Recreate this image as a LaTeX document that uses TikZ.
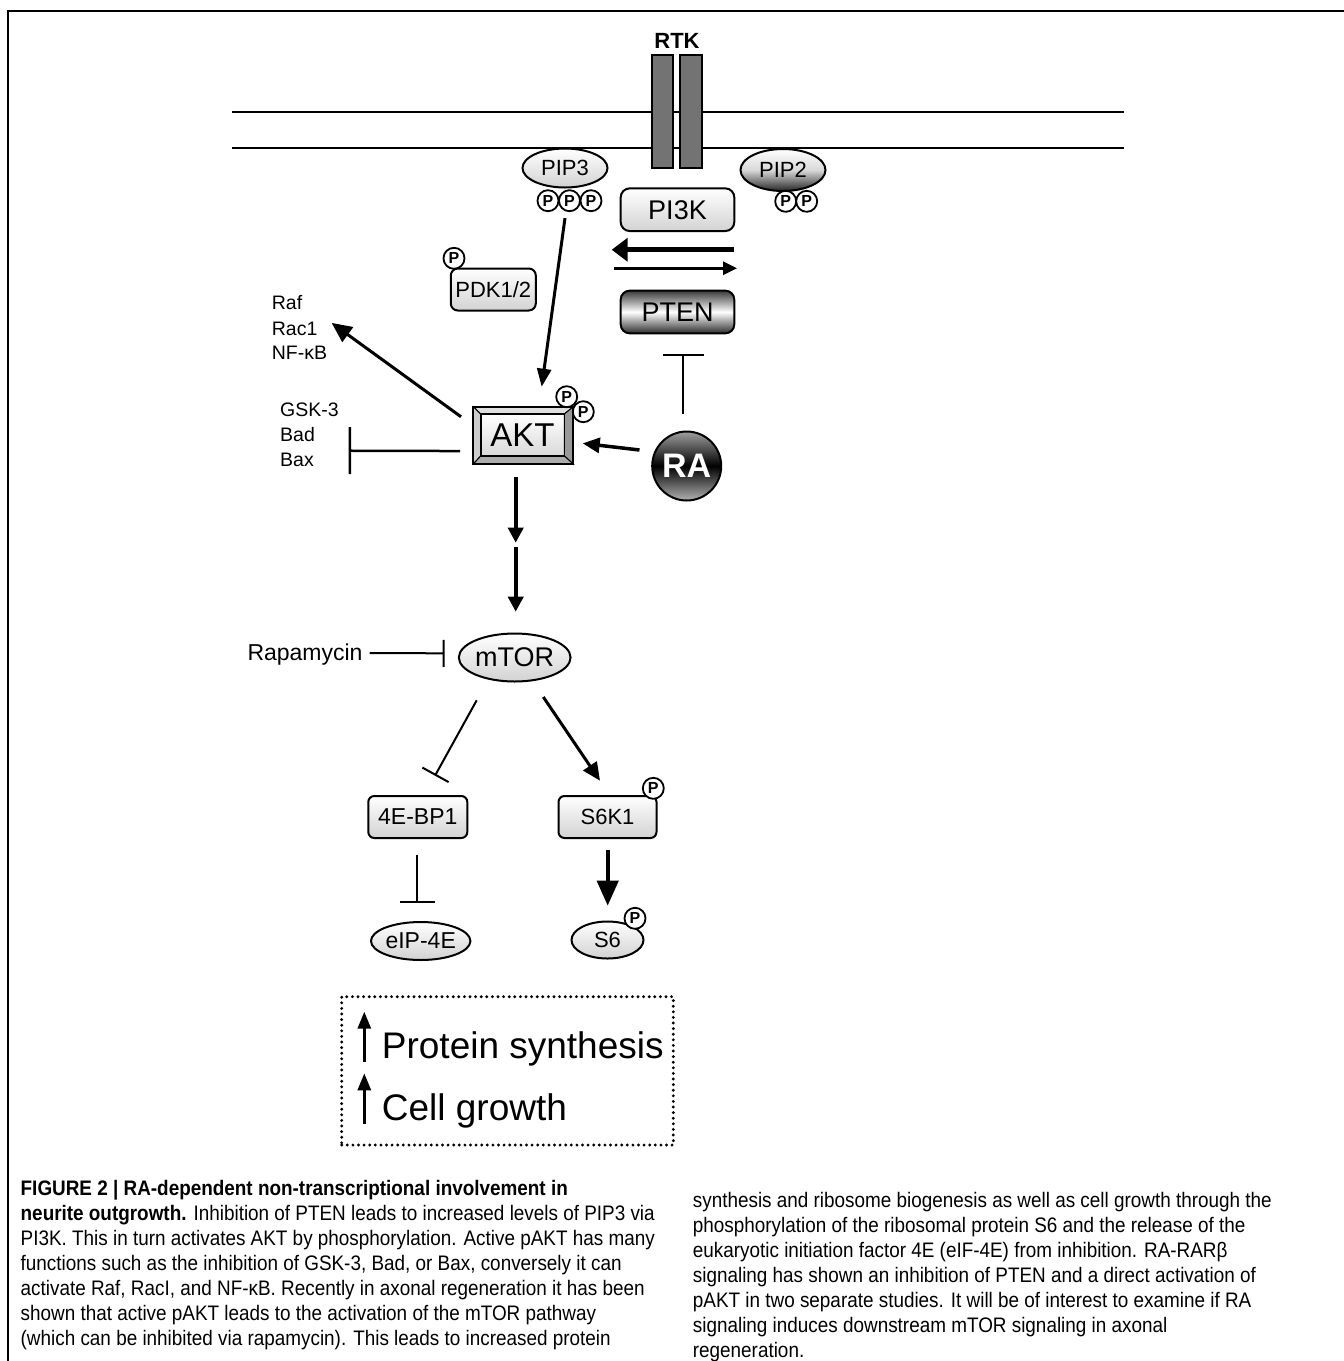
\documentclass[tikz,border=0pt]{standalone}
\usepackage{fontspec}
\setmainfont{Liberation Sans}
\newfontfamily\capfont[FakeStretch=0.9]{Liberation Sans}
\usetikzlibrary{arrows.meta,calc,positioning,shapes.geometric}
\definecolor{rtkgray}{gray}{0.45}
\newcommand{\fsz}[1]{\fontsize{#1}{#1}\selectfont}

\begin{document}
\begin{tikzpicture}[x=1pt,y=-1pt,
  lite/.style={draw,line width=2pt,top color=white,bottom color=gray!35},
  rbox/.style={lite,rectangle,rounded corners=9pt,inner sep=0pt},
  oval/.style={lite,ellipse,inner sep=0pt},
  phos/.style={circle,draw,line width=1.8pt,fill=white,minimum size=21pt,inner sep=0pt,font=\bfseries\fsz{16}},
  lbl/.style={anchor=base west,inner sep=0pt,font=\fsz{19.5}},
  rtkbar/.style={draw,line width=2pt,fill=rtkgray,minimum width=21.6pt,minimum height=112.7pt,inner sep=0pt},
  act/.style={line width=3pt,-{Triangle[length=18pt,width=15pt]}},
  inh/.style={line width=2pt},
  capline/.style={anchor=base west,inner sep=0pt,font=\capfont\fsz{21}}
]
\useasboundingbox (0,0) rectangle (1344,1361);
% frame
\draw[line width=2.5pt] (8,1361) -- (8,11) -- (1344,11);

% membrane and receptor
\draw[line width=2.5pt] (232,112) -- (1124,112);
\draw[line width=2.5pt] (232,148) -- (1124,148);
\node[rtkbar] (rtka) at (662.5,111.3) {};
\node[rtkbar] (rtkb) at (690.8,111.3) {};
\node[anchor=base,inner sep=0pt,font=\bfseries\fsz{22}] (rtk) at (677,48) {RTK};

% lipids and kinases
\node[oval,minimum width=85pt,minimum height=39pt,font=\fsz{22}] (pip3) at (565,168) {PIP3};
\node[phos] (p3a) at (548,200.7) {P};
\node[phos] (p3b) at (569.5,200.7) {P};
\node[phos] (p3c) at (591,200.7) {P};
\node[oval,minimum width=85pt,minimum height=42pt,font=\fsz{22},top color=white,bottom color=black!85,middle color=gray!30] (pip2) at (783,170) {PIP2};
\node[phos] (p2a) at (785.7,201.3) {P};
\node[phos] (p2b) at (806.7,201.3) {P};
\node[rbox,minimum width=113.6pt,minimum height=42.7pt,font=\fsz{27}] (pi3k) at (677.5,209.7) {PI3K};
\node[rbox,minimum width=113.6pt,minimum height=42.7pt,font=\fsz{27},top color=gray!45!black,bottom color=gray!35!black,middle color=white] (pten) at (677.5,312) {PTEN};
\node[rbox,rounded corners=7pt,minimum width=85pt,minimum height=42pt,font=\fsz{22}] (pdk) at (493.3,289.5) {PDK1/2};
\node[phos] (pdkp) at (454,258.3) {P};

% AKT with bevelled frame
\node[draw,line width=2pt,outer sep=0pt,fill=gray!55,minimum width=100pt,minimum height=57.3pt] (akt) at (523.3,435.35) {};
\node[draw,line width=1.6pt,outer sep=0pt,top color=white,bottom color=gray!30,minimum width=83.6pt,minimum height=42pt,inner sep=0pt,font=\fsz{33}] (aktin) at (522.5,435) {AKT};
\filldraw[fill=gray!25,line width=1pt] (akt.north west) -- (akt.north east) -- (aktin.north east) -- (aktin.north west) -- cycle;
\filldraw[fill=gray!40,line width=1pt] (akt.north west) -- (aktin.north west) -- (aktin.south west) -- (akt.south west) -- cycle;
\filldraw[fill=gray!80,line width=1pt] (akt.north east) -- (akt.south east) -- (aktin.south east) -- (aktin.north east) -- cycle;
\filldraw[fill=gray!65,line width=1pt] (akt.south west) -- (aktin.south west) -- (aktin.south east) -- (akt.south east) -- cycle;
\draw[line width=2pt] (akt.north west) rectangle (akt.south east);
\draw[line width=1.6pt] (aktin.north west) rectangle (aktin.south east);
\node[phos] (akp1) at (566.7,396.7) {P};
\node[phos] (akp2) at (583.3,411.7) {P};

\node[circle,draw,line width=2pt,minimum size=69pt,inner sep=0pt,top color=gray!75,bottom color=gray!60,middle color=black,text=white,font=\bfseries\fsz{34}] (ra) at (686.7,466) {RA};

% targets of AKT
\node[lbl] (raf) at (271.7,309.3) {Raf};
\node[lbl] (rac) at (271.7,335) {Rac1};
\node[lbl] (nfkb) at (271.7,359.3) {NF-κB};
\node[lbl] (gsk) at (280,416.7) {GSK-3};
\node[lbl] (bad) at (280,441.7) {Bad};
\node[lbl] (bax) at (280,466.7) {Bax};

% mTOR branch
\node[oval,minimum width=110pt,minimum height=48pt,font=\fsz{27}] (mtor) at (514.7,657.5) {mTOR};
\node[lbl,font=\fsz{23}] (rapa) at (247.3,660) {Rapamycin};
\node[rbox,rounded corners=6pt,minimum width=99pt,minimum height=42pt,font=\fsz{23}] (bp1) at (417.8,817) {4E-BP1};
\node[rbox,rounded corners=6pt,minimum width=98pt,minimum height=42pt,font=\fsz{22}] (s6k) at (607.5,817) {S6K1};
\node[phos] (s6kp) at (653.3,788.3) {P};
\node[oval,minimum width=93pt,minimum height=38pt,font=\fsz{23}] (eip) at (420.7,941) {eIP-4E};
\node[oval,minimum width=72pt,minimum height=37pt,font=\fsz{22}] (s6) at (607.5,940) {S6};
\node[phos] (s6p) at (635,918.3) {P};

% outcome
\node[draw,line width=3.2pt,line cap=round,dash pattern=on 0pt off 5.6pt,minimum width=331.6pt,minimum height=148.3pt] (outc) at (507.5,1070.85) {};
\node[anchor=base west,inner sep=0pt,font=\fsz{37}] (prot) at (381.7,1058) {Protein synthesis};
\node[anchor=base west,inner sep=0pt,font=\fsz{37}] (cell) at (381.7,1120) {Cell growth};
\draw[line width=3pt,-{Triangle[length=17pt,width=13pt]}] ($(prot.base west)+(-17.4,3.7)$) -- ++(0,-50);
\draw[line width=3pt,-{Triangle[length=17pt,width=13pt]}] ($(cell.base west)+(-17.4,4)$) -- ++(0,-50.7);

% connectors
\draw[act,-{Triangle[length=18pt,width=14pt]}] ($(p3b.south)+(-4.5,6)$) -- ($(akt.north)+(18.4,-20)$);
\draw[line width=5pt,-{Triangle[length=16pt,width=23pt]}] ($(pi3k.south east)+(-1.3,17.7)$) -- ($(pi3k.south west)+(-8,17.7)$);
\draw[line width=3pt,-{Triangle[length=14pt,width=13pt]}] ($(pten.north west)+(-5.7,-21.4)$) -- ($(pten.north east)+(1.7,-21.4)$);
\draw[act,-{Triangle[length=20pt,width=18pt]}] ($(akt.west)+(-12.3,-18.6)$) -- ($(rac.east)+(14,-5.5)$);
\draw[inh,line width=2.5pt,-{Bar[width=47pt]}] ($(akt.west)+(-13.3,15.7)$) -- ($(bad.east)+(33.5,16)$);
\draw[line width=3.5pt,-{Triangle[length=17pt,width=15pt]}] ($(ra.west)+(-11.7,-16)$) -- ($(akt.east)+(9.4,8)$);
\draw[inh,-{Bar[width=41pt]}] ($(ra.north)+(-3.4,-16.7)$) -- ($(pten.south)+(5.8,19.4)$);
\coordinate (akmid) at (515.7,545);
\draw[line width=4pt,-{Triangle[length=15pt,width=15pt]}] ($(akt.south)+(-7.6,12.7)$) -- ($(akmid)+(0,-2.3)$);
\draw[line width=4pt,-{Triangle[length=15pt,width=15pt]}] ($(akmid)+(0,2.3)$) -- ($(mtor.north)+(1,-20.8)$);
\draw[inh,-{Bar[width=27pt]}] ($(rapa.east)+(7,-1)$) -- ($(mtor.west)+(-13.3,-4.2)$);
\draw[inh,-{Bar[width=30pt]}] ($(mtor.south)+(-38,17.8)$) -- ($(bp1.north)+(17.2,-19.3)$);
\draw[act,-{Triangle[length=18pt,width=16pt]}] ($(mtor.south)+(28.6,14.5)$) -- ($(s6k.north)+(-7.5,-14.3)$);
\draw[inh,-{Bar[width=35pt]}] ($(bp1.south)+(-0.5,15.7)$) -- ($(eip.north)+(-3.4,-18)$);
\draw[line width=4pt,-{Triangle[length=25pt,width=21pt]}] ($(s6k.south)+(0.2,11)$) -- ($(s6.north)+(0.2,-14.8)$);

% caption
\foreach \txt [count=\i] in {
  {\textbf{FIGURE 2 | RA-dependent non-transcriptional involvement in}},
  {\textbf{neurite outgrowth.} Inhibition of PTEN leads to increased levels of PIP3 via},
  {PI3K. This in turn activates AKT by phosphorylation. Active pAKT has many},
  {functions such as the inhibition of GSK-3, Bad, or Bax, conversely it can},
  {activate Raf, RacI, and NF-κB. Recently in axonal regeneration it has been},
  {shown that active pAKT leads to the activation of the mTOR pathway},
  {(which can be inhibited via rapamycin). This leads to increased protein}}
  \node[capline] (capl\i) at (20.5,{1195+25*(\i-1)}) {\txt};
\foreach \txt [count=\i] in {
  {synthesis and ribosome biogenesis as well as cell growth through the},
  {phosphorylation of the ribosomal protein S6 and the release of the},
  {eukaryotic initiation factor 4E (eIF-4E) from inhibition. RA-RARβ},
  {signaling has shown an inhibition of PTEN and a direct activation of},
  {pAKT in two separate studies. It will be of interest to examine if RA},
  {signaling induces downstream mTOR signaling in axonal},
  {regeneration.}}
  \node[capline] (capr\i) at (692.7,{1207+25*(\i-1)}) {\txt};
\end{tikzpicture}
\end{document}
